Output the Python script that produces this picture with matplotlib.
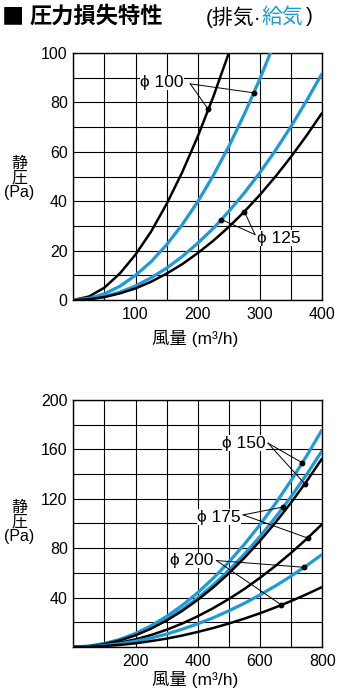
import matplotlib
matplotlib.use("Agg")
import matplotlib.pyplot as plt
import numpy as np

plt.rcParams['font.family'] = ['Liberation Sans', 'Noto Sans CJK JP', 'DejaVu Sans']

BLUE = "#1e9bd7"

# 上段: φ100 / φ125 (風量 0-400)
q_a = [0, 25, 50, 75, 100, 125, 150, 175, 200, 225, 250, 275, 300, 325, 350, 375, 400]
p100_exh = [0, 1.4, 5.0, 10.8, 18.4, 27.7, 38.9, 51.7, 66.2, 82.3, 100, 120]
p100_sup = [0, 0.6, 2.5, 5.6, 10.0, 15.5, 22.4, 30.5, 39.8, 50.4, 62.2, 75.3, 89.6, 105.1]
p125_sup = [0, 0.4, 1.4, 3.2, 5.7, 9.0, 12.9, 17.6, 23.0, 29.0, 35.9, 43.4, 51.6, 60.6, 70.3, 80.7, 91.8]
p125_exh = [0, 0.3, 1.2, 2.7, 4.7, 7.4, 10.7, 14.5, 19.0, 24.0, 29.6, 35.8, 42.6, 50.0, 58.0, 66.6, 75.8]

# 下段: φ150 / φ175 / φ200 (風量 0-800)
q_b = [0, 50, 100, 150, 200, 250, 300, 350, 400, 450, 500, 550, 600, 650, 700, 750, 800]
p150_sup = [0, 0.7, 2.8, 6.2, 11.0, 17.2, 24.8, 33.7, 44.0, 55.7, 68.8, 83.2, 99.0, 116.2, 134.8, 154.7, 176.0]
p175_sup = [0, 0.6, 2.5, 5.6, 9.9, 15.5, 22.4, 30.4, 39.8, 50.3, 62.1, 75.2, 89.4, 105.0, 121.7, 139.7, 159.0]
p150_exh = [0, 0.6, 2.4, 5.4, 9.5, 14.9, 21.5, 29.2, 38.2, 48.3, 59.6, 72.2, 85.9, 100.8, 116.9, 134.2, 152.7]
p175_exh = [0, 0.4, 1.6, 3.5, 6.2, 9.7, 14.0, 19.0, 24.9, 31.5, 38.9, 47.0, 56.0, 65.7, 76.2, 87.5, 99.5]
p200_sup = [0, 0.3, 1.2, 2.6, 4.7, 7.3, 10.5, 14.4, 18.8, 23.7, 29.3, 35.4, 42.2, 49.5, 57.4, 65.9, 75.0]
p200_exh = [0, 0.2, 0.8, 1.7, 3.0, 4.8, 6.8, 9.3, 12.2, 15.4, 19.0, 23.0, 27.3, 32.1, 37.2, 42.7, 48.6]


def curve(ax, q, p, color, lw):
    ax.plot(q[:len(p)], p, color=color, lw=lw, solid_capstyle='butt', zorder=3)


def callout(ax, text, txy, start, targets):
    # targets: (q, q-list, p-list); the dot sits on the curve at q
    ax.text(txy[0], txy[1], text, ha='center', va='center', fontsize=12.5,
            family=['Liberation Sans', 'DejaVu Sans'], zorder=5,
            bbox=dict(fc='white', ec='none', pad=0.3))
    for qx, q, p in targets:
        py = np.interp(qx, q[:len(p)], p)
        ax.plot([start[0], qx], [start[1], py], color='k', lw=0.7, zorder=4)
        ax.plot(qx, py, 'o', color='k', ms=3.2, zorder=6)


def frame(ax, xmax, ymax, xstep, ystep, xticks, yticks):
    ax.set_xlim(0, xmax)
    ax.set_ylim(0, ymax)
    ax.set_xticks(np.arange(0, xmax + 1, xstep), minor=True)
    ax.set_yticks(np.arange(0, ymax + 1, ystep), minor=True)
    ax.set_xticks(xticks)
    ax.set_yticks(yticks)
    ax.grid(True, which='both', color='k', lw=0.8)
    ax.tick_params(which='both', length=0, labelsize=11.5)
    ax.tick_params(axis='x', pad=5)
    ax.tick_params(axis='y', pad=4)
    for s in ax.spines.values():
        s.set_linewidth(1.0)


fig = plt.figure(figsize=(3.4, 7.0), dpi=100)

ax1 = fig.add_axes([0.2156, 0.5714, 0.732, 0.3529])
frame(ax1, 400, 100, 50, 10, [100, 200, 300, 400], [0, 20, 40, 60, 80, 100])
curve(ax1, q_a, p100_exh, 'k', 1.8)
curve(ax1, q_a, p100_sup, BLUE, 2.3)
curve(ax1, q_a, p125_sup, BLUE, 2.3)
curve(ax1, q_a, p125_exh, 'k', 1.8)
callout(ax1, "ϕ 100", (142, 88), (188, 87.5),
        [(217, q_a, p100_exh), (290, q_a, p100_sup)])
callout(ax1, "ϕ 125", (330, 25), (292, 26.5),
        [(238, q_a, p125_sup), (275, q_a, p125_exh)])

ax2 = fig.add_axes([0.2156, 0.0757, 0.732, 0.3529])
frame(ax2, 800, 200, 100, 20, [200, 400, 600, 800], [40, 80, 120, 160, 200])
curve(ax2, q_b, p150_sup, BLUE, 2.3)
curve(ax2, q_b, p175_sup, BLUE, 2.3)
curve(ax2, q_b, p150_exh, 'k', 1.8)
curve(ax2, q_b, p175_exh, 'k', 1.8)
curve(ax2, q_b, p200_sup, BLUE, 2.3)
curve(ax2, q_b, p200_exh, 'k', 1.8)
callout(ax2, "ϕ 150", (548, 165), (626, 165),
        [(736, q_b, p150_sup), (744, q_b, p150_exh)])
callout(ax2, "ϕ 175", (468, 105), (546, 107),
        [(675, q_b, p175_sup), (753, q_b, p175_exh)])
callout(ax2, "ϕ 200", (382, 70), (460, 70),
        [(742, q_b, p200_sup), (669, q_b, p200_exh)])

# 軸ラベル
for yc in (178, 522):
    fig.text(19 / 340, 1 - yc / 700, "静\n圧\n(Pa)", ha='center', va='center',
             fontsize=11.5, linespacing=1.0)
for yc in (339, 680):
    fig.text(195 / 340, 1 - yc / 700, "風量 (m³/h)", ha='center', va='center',
             fontsize=12.5)

# タイトル
ty = 1 - 17 / 700
fig.text(2 / 340, ty, "■", ha='left', va='center', fontsize=16,
         family=['Noto Sans CJK JP'])
fig.text(30 / 340, ty, "圧力損失特性", ha='left', va='center', fontsize=16,
         fontweight='bold')
t1 = fig.text(206 / 340, ty, "(排気·", ha='left', va='center', fontsize=15)
t2 = fig.text(0, ty, "給気", ha='left', va='center', fontsize=15, color=BLUE)
fig.canvas.draw()
bb = t1.get_window_extent()
t2.set_x(bb.x1 / fig.bbox.width)
fig.canvas.draw()
bb2 = t2.get_window_extent()
fig.text(bb2.x1 / fig.bbox.width + 0.008, ty, ")", ha='left', va='center',
         fontsize=15)

fig.savefig("out.png", dpi=100)
